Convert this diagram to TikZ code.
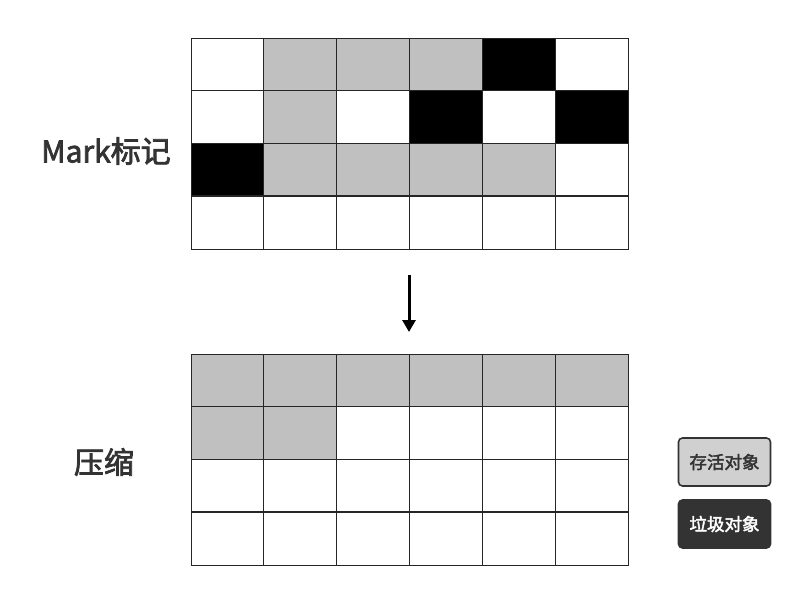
\documentclass[tikz,border=0pt]{standalone}
\usepackage{fontspec}
\setmainfont{Noto Sans CJK SC}
\newfontfamily\medfont[FakeBold=2.5]{Noto Sans CJK SC}
\usetikzlibrary{arrows.meta}
\definecolor{live}{HTML}{C0C0C0}
\definecolor{txt}{HTML}{333333}
\definecolor{legendlive}{HTML}{D0D0D0}
\begin{document}
\begin{tikzpicture}[x=1pt,y=-1pt,
  gridline/.style={draw=black!85, line width=1.3pt},
  lbl/.style={text=txt, font=\medfont\fontsize{30}{33}\selectfont, inner sep=0pt},
  legendbox/.style={rounded corners=4pt, minimum width=92pt, minimum height=48pt, inner sep=0pt, font=\medfont\fontsize{17.5}{20}\selectfont, line width=1.6pt}]
\useasboundingbox (0,0) rectangle (796,608);
\def\cw{72.83}
\def\ch{52.7}
% top grid colors: 0 white, 1 gray, 2 black
\foreach \r/\row in {0/{0,1,1,1,2,0},1/{0,1,0,2,0,2},2/{2,1,1,1,1,0},3/{0,0,0,0,0,0}}{
  \foreach \v [count=\c from 0] in \row {
    \ifnum\v=1 \fill[live] (191+\c*\cw,38+\r*\ch) rectangle ++(\cw,\ch);\fi
    \ifnum\v=2 \fill[black] (191+\c*\cw,38+\r*\ch) rectangle ++(\cw,\ch);\fi
  }
}
\node[gridline, minimum width=437pt, minimum height=210.8pt, inner sep=0pt, anchor=north west] (topgrid) at (191,38) {};
\foreach \i in {1,...,5} \draw[gridline] (191+\i*\cw,38) -- (191+\i*\cw,248.8);
\foreach \j in {1,2,3} \draw[gridline] (191,38+\j*\ch) -- (628,38+\j*\ch);
% bottom grid
\foreach \r/\row in {0/{1,1,1,1,1,1},1/{1,1,0,0,0,0}}{
  \foreach \v [count=\c from 0] in \row {
    \ifnum\v=1 \fill[live] (191+\c*\cw,354+\r*\ch) rectangle ++(\cw,\ch);\fi
  }
}
\node[gridline, minimum width=437pt, minimum height=210.8pt, inner sep=0pt, anchor=north west] (botgrid) at (191,354) {};
\foreach \i in {1,...,5} \draw[gridline] (191+\i*\cw,354) -- (191+\i*\cw,564.8);
\foreach \j in {1,2,3} \draw[gridline] (191,354+\j*\ch) -- (628,354+\j*\ch);
% arrow
\coordinate (a1) at (409,275);
\coordinate (a2) at (409,332);
\draw[line width=3pt, -{Triangle[length=12pt,width=13pt]}] (a1) -- (a2);
% labels
\node[lbl] (marklbl) at (106,151) {Mark标记};
\node[lbl] (cmplbl) at (104,462) {压缩};
% legend
\node[legendbox, draw=txt, fill=legendlive, text=txt] (leglive) at (724.5,462) {存活对象};
\node[legendbox, draw=txt, fill=txt, text=white] (leggarb) at (724.5,524) {垃圾对象};
\end{tikzpicture}
\end{document}
